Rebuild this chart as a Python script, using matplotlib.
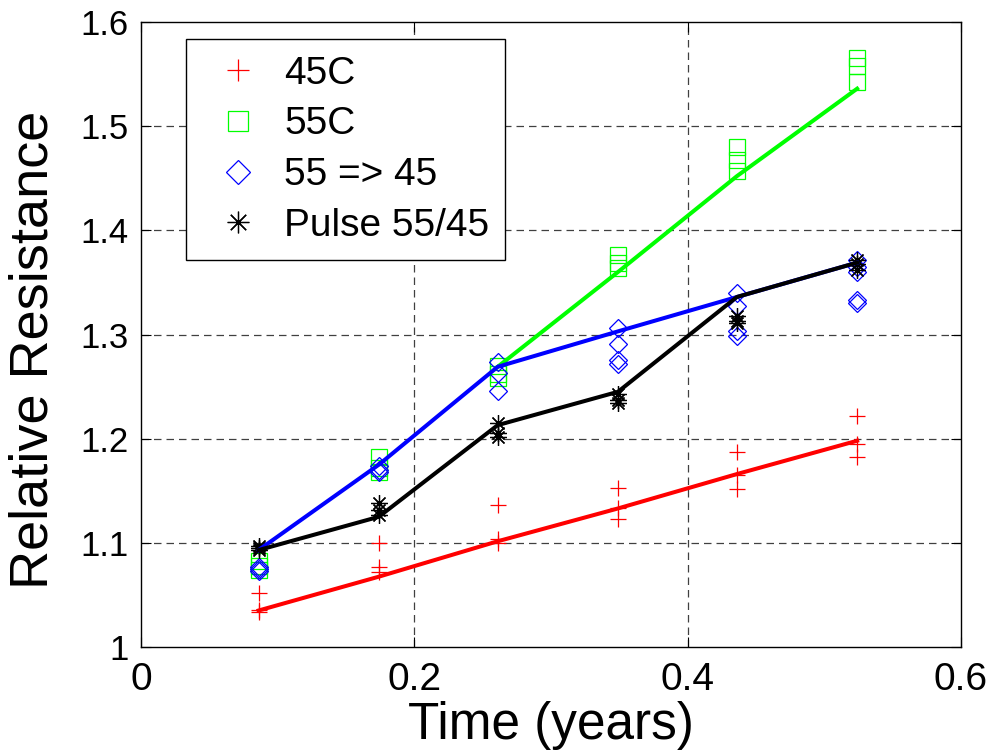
import numpy as np
import matplotlib
matplotlib.use("Agg")
import matplotlib.pyplot as plt

plt.rcParams["font.family"] = ["Liberation Sans", "DejaVu Sans"]

# sample times (years)
t = [0.086, 0.174, 0.261, 0.349, 0.436, 0.524]

# measured relative resistance, three or more samples per time
r_45c = [[1.052, 1.036, 1.034], [1.100, 1.077, 1.072], [1.136, 1.104, 1.100],
         [1.153, 1.133, 1.123], [1.187, 1.165, 1.152], [1.222, 1.195, 1.182]]
r_55c = [[1.083, 1.078, 1.074], [1.182, 1.172, 1.168], [1.270, 1.262, 1.258],
         [1.376, 1.369, 1.364], [1.480, 1.468, 1.457], [1.565, 1.558, 1.542]]
r_55to45 = [[1.073, 1.075, 1.077], [1.174, 1.170, 1.168], [1.274, 1.263, 1.246],
            [1.306, 1.291, 1.276, 1.272], [1.340, 1.327, 1.303, 1.299],
            [1.372, 1.365, 1.360, 1.333, 1.330]]
r_pulse = [[1.097, 1.095, 1.093], [1.138, 1.132, 1.127], [1.215, 1.205, 1.202],
           [1.243, 1.237, 1.234], [1.318, 1.313, 1.311], [1.372, 1.368, 1.362]]

# model curves
fit_45c = [1.035, 1.0675, 1.1015, 1.133, 1.166, 1.198]
fit_55c = [1.093, 1.175, 1.269, 1.360, 1.452, 1.536]
fit_55to45 = [1.093, 1.175, 1.269, 1.303, 1.336, 1.369]
fit_pulse = [1.093, 1.125, 1.213, 1.245, 1.336, 1.369]

labels = ["45C", "55C", "55 => 45", "Pulse 55/45"]


def flatten(groups):
    xs, ys = [], []
    for ti, g in zip(t, groups):
        xs += [ti] * len(g)
        ys += g
    return xs, ys


fig = plt.figure(figsize=(9.94, 7.52), dpi=100)
ax = fig.add_axes([141 / 994, 105 / 752, 820 / 994, 625 / 752])

grid_kw = dict(color="0.25", lw=0.9, ls=(0, (6, 4)), zorder=0)
for gx in [0.2, 0.4]:
    ax.axvline(gx, **grid_kw)
for gy in [1.1, 1.2, 1.3, 1.4, 1.5]:
    ax.axhline(gy, **grid_kw)

lw = 2.9
ax.plot(t[2:], fit_55c[2:], color="#00ff00", lw=lw, zorder=3)
ax.plot(t, fit_45c, color="#ff0000", lw=lw, zorder=3)
ax.plot(t, fit_55to45, color="#0000ff", lw=lw, zorder=3)
ax.plot(t, fit_pulse, color="black", lw=lw, zorder=4)

x, y = flatten(r_45c)
ax.plot(x, y, ls="none", marker="+", ms=12, mew=0.9, color="#ff0000", label=labels[0], zorder=2)
x, y = flatten(r_55c)
ax.plot(x, y, ls="none", marker="s", ms=11.5, mew=0.9, mfc="none", mec="#00ff00", label=labels[1], zorder=2)
x, y = flatten(r_55to45)
ax.plot(x, y, ls="none", marker="D", ms=9.5, mew=0.9, mfc="none", mec="#0000ff", label=labels[2], zorder=2)
x, y = flatten(r_pulse)
ax.plot(x, y, ls="none", marker=(8, 2, 0), ms=12, mew=0.9, color="black", label=labels[3], zorder=2)

ax.set_xlim(0, 0.6)
ax.set_ylim(1, 1.6)
ax.set_xticks([0, 0.2, 0.4, 0.6])
ax.set_xticklabels(["0", "0.2", "0.4", "0.6"])
ax.set_yticks([1, 1.1, 1.2, 1.3, 1.4, 1.5, 1.6])
ax.set_yticklabels(["1", "1.1", "1.2", "1.3", "1.4", "1.5", "1.6"])
ax.tick_params(direction="in", length=7, width=0.8, top=True, right=True)
ax.tick_params(axis="x", pad=11, labelsize=28)
ax.tick_params(axis="y", pad=9, labelsize=25)
for s in ax.spines.values():
    s.set_linewidth(1.0)

ax.set_xlabel("Time (years)", fontsize=37, labelpad=2)
ax.set_ylabel("Relative Resistance", fontsize=39, labelpad=16)
ax.yaxis.label.set_y(0.475)

leg = ax.legend(loc="upper left", bbox_to_anchor=(0.0549, 0.9723), fontsize=28,
                frameon=True, fancybox=False, edgecolor="black", framealpha=1,
                borderpad=0.42, labelspacing=0.38, handlelength=1.85, handletextpad=0.25,
                borderaxespad=0, markerscale=1.3)
leg.get_frame().set_linewidth(1.0)

fig.savefig("out.png", dpi=100)
